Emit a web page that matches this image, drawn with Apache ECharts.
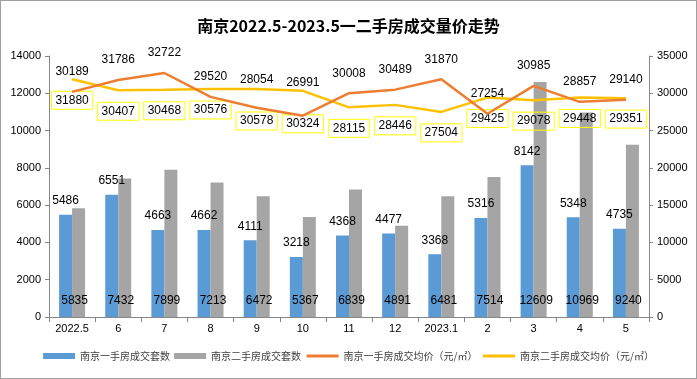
<!DOCTYPE html>
<html><head><meta charset="utf-8">
<script src="https://cdn.jsdelivr.net/npm/echarts@6/dist/echarts.min.js"></script>
<style>html,body{margin:0;padding:0;background:#fff}#c{width:697px;height:379px;box-sizing:border-box;border:1px solid #a0a0a0}</style>
</head><body><div id="c"></div>
<script>
const categories = ['2022.5','6','7','8','9','10','11','12','2023.1','2','3','4','5'];
const newCount = [5486,6551,4663,4662,4111,3218,4368,4477,3368,5316,8142,5348,4735];
const usedCount = [5835,7432,7899,7213,6472,5367,6839,4891,6481,7514,12609,10969,9240];
const newPrice = [30189,31786,32722,29520,28054,26991,30008,30489,31870,27254,30985,28857,29140];
const usedPrice = [31880,30407,30468,30576,30578,30324,28115,28446,27504,29425,29078,29448,29351];
const seriesNames = ['南京一手房成交套数','南京二手房成交套数','南京一手房成交均价（元/㎡）','南京二手房成交均价（元/㎡）'];
const titleText = '南京2022.5-2023.5一二手房成交量价走势';

// label distance tweaks (style only) for months 9 and 10
const newLabelDist = {4:22, 5:27};
const usedLabelDist = {4:23, 5:24};

const F = 'Liberation Sans, "Noto Sans CJK SC", sans-serif';
const chart = echarts.init(document.getElementById('c'));
const axisLine = {show:true, lineStyle:{color:'#868686'}};
const plain = v => String(v);
const withDist = (arr, d) => arr.map((v,i) => d[i] != null ? {value:v, label:{distance:d[i]}} : v);
chart.setOption({
  animation:false,
  backgroundColor:'#fff',
  textStyle:{fontFamily:F},
  title:{text:titleText, left:'center', top:12, textStyle:{fontSize:16, fontWeight:'bold', color:'#000', fontFamily:'"Noto Sans CJK SC", sans-serif'}},
  legend:{bottom:12, left:'center', itemGap:4, itemWidth:32, itemHeight:6,
    textStyle:{fontSize:10, color:'#404040', fontFamily:'"Noto Sans CJK SC", sans-serif'},
    data:[{name:seriesNames[0], icon:'rect'},{name:seriesNames[1], icon:'rect'},
      {name:seriesNames[2], itemStyle:{opacity:0}, lineStyle:{width:3}},
      {name:seriesNames[3], itemStyle:{opacity:0}, lineStyle:{width:3}}]},
  grid:{left:48, right:47, top:55, bottom:61},
  xAxis:{type:'category', data:categories, axisLine:axisLine,
    axisTick:{show:true, alignWithLabel:false, length:5, lineStyle:{color:'#868686'}},
    axisLabel:{color:'#000', fontSize:11, margin:6}},
  yAxis:[
    {type:'value', min:0, max:14000, interval:2000, splitLine:{show:false}, axisLine:axisLine,
     axisTick:{show:true, length:4, lineStyle:{color:'#868686'}}, axisLabel:{color:'#000', fontSize:11, margin:8, formatter:plain}},
    {type:'value', min:0, max:35000, interval:5000, splitLine:{show:false}, axisLine:axisLine,
     axisTick:{show:true, length:4, lineStyle:{color:'#868686'}}, axisLabel:{color:'#000', fontSize:11, margin:8, formatter:plain}}
  ],
  series:[
    {name:seriesNames[0], type:'bar', data:newCount, barWidth:13, barGap:'0%', itemStyle:{color:'#5B9BD5'},
     label:{show:true, position:'top', distance:8, color:'#000', fontSize:12}},
    {name:seriesNames[1], type:'bar', data:usedCount, barWidth:13, itemStyle:{color:'#A5A5A5'},
     label:{show:true, position:'insideBottom', distance:10, offset:[-4,0], color:'#000', fontSize:12}},
    {name:seriesNames[2], type:'line', yAxisIndex:1, data:withDist(newPrice, newLabelDist), symbol:'circle', symbolSize:0.01, showSymbol:true,
     lineStyle:{color:'#ED7D31', width:2.5}, itemStyle:{color:'#ED7D31'},
     label:{show:true, position:'top', distance:14, color:'#000', fontSize:12}, z:5},
    {name:seriesNames[3], type:'line', yAxisIndex:1, data:withDist(usedPrice, usedLabelDist), symbol:'circle', symbolSize:0.01, showSymbol:true,
     lineStyle:{color:'#FFC000', width:2.5}, itemStyle:{color:'#FFC000'},
     label:{show:true, position:'bottom', distance:12, color:'#000', fontSize:12, borderColor:'#FFFF00', borderWidth:1, padding:[3,4,3,4]}, z:4}
  ]
});
</script></body></html>
